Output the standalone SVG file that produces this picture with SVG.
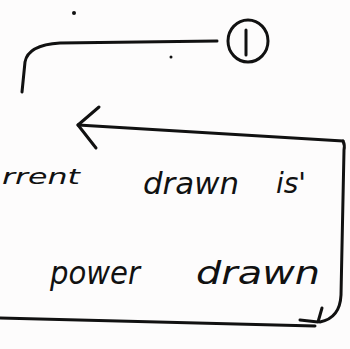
<svg xmlns="http://www.w3.org/2000/svg" width="350" height="349" viewBox="0 0 350 349">
<style>
.ink{fill:none;stroke:#111;stroke-width:3;stroke-linecap:round;stroke-linejoin:round}
.t{font-family:"DejaVu Sans","Liberation Sans",sans-serif;fill:#111;font-style:italic}
</style>
<rect width="350" height="349" fill="#fdfcfc"/>
<g id="connectors">
<path class="ink" d="M22,92 L25,62 Q28,45 60,43 L217,41"/>
<path class="ink" d="M343,141 L78,125"/>
<path class="ink" d="M99,107 L78,125 L96,148"/>
<path class="ink" d="M343,141 Q345,145 344,150 L341,295 Q340,318 320,322"/>
<path class="ink" d="M0,318 Q150,322 315,326"/>
<path class="ink" d="M300,320 L318,322 L322,308"/>
<circle cx="74" cy="13" r="2" fill="#111"/>
<circle cx="171" cy="57" r="1.5" fill="#111"/>
</g>
<g id="node1">
<ellipse class="ink" cx="248" cy="41" rx="20" ry="21"/>
<path class="ink" d="M246,30 L246,55"/>
</g>
<g id="labels">
<text class="t" x="2" y="184" font-size="22" textLength="78" lengthAdjust="spacingAndGlyphs">rrent</text>
<text class="t" x="143" y="194" font-size="30" textLength="96" lengthAdjust="spacingAndGlyphs">drawn</text>
<text class="t" x="276" y="193" font-size="28">is'</text>
<text class="t" x="50" y="284" font-size="32" textLength="90" lengthAdjust="spacingAndGlyphs">power</text>
<text class="t" x="196" y="284" font-size="32" textLength="124" lengthAdjust="spacingAndGlyphs">drawn</text>
</g>
</svg>
